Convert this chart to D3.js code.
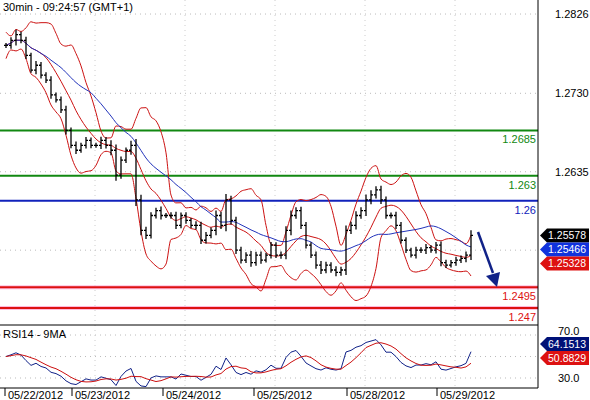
<!DOCTYPE html><html><head><meta charset="utf-8">
<script src="https://cdn.jsdelivr.net/npm/d3@7"></script>
<style>body{margin:0;background:#fff}text{font-family:Arial,"Liberation Sans",sans-serif}</style></head><body>
<svg id="c" width="590" height="400"></svg>
<script>
const closes=[1.2788,1.2794,1.2801,1.2794,1.2776,1.2758,1.2764,1.2752,1.2746,1.2728,1.2722,1.2710,1.2685,1.2667,1.2661,1.2667,1.2673,1.2667,1.2667,1.2673,1.2667,1.2661,1.2631,1.2649,1.2661,1.2667,1.2601,1.2564,1.2558,1.2582,1.2588,1.2582,1.2582,1.2582,1.2570,1.2582,1.2576,1.2570,1.2570,1.2552,1.2558,1.2564,1.2582,1.2570,1.2601,1.2576,1.2540,1.2528,1.2534,1.2525,1.2534,1.2528,1.2534,1.2546,1.2534,1.2534,1.2564,1.2582,1.2588,1.2570,1.2546,1.2534,1.2522,1.2516,1.2522,1.2516,1.2513,1.2516,1.2564,1.2570,1.2582,1.2588,1.2601,1.2607,1.2613,1.2601,1.2582,1.2582,1.2570,1.2552,1.2540,1.2534,1.2540,1.2540,1.2543,1.2540,1.2546,1.2525,1.2522,1.2525,1.2528,1.2530,1.2534,1.2558];
const wicks=[6,8,12,7,9,6,10,8,7,9,6,8,10,7,9,6,8,7,6,9,8,12,14,9,7,11,15,12,9,8,7,10,6,8,9,7,8,6,10,9,8,7,12,9,14,10,9,8,7,10,8,9,6,8,7,9,10,12,8,9,8,7,9,10,8,7,9,8,12,9,10,8,13,11,9,10,8,7,9,8,7,6,8,7,9,6,8,9,7,6,8,7,9,12];
const levels=[{v:1.2685,c:"#118811",t:"1.2685"},{v:1.263,c:"#118811",t:"1.263"},{v:1.26,c:"#1122bb",t:"1.26"},{v:1.2495,c:"#dd1111",t:"1.2495"},{v:1.247,c:"#dd1111",t:"1.247"}];
const priceTicks=[1.2826,1.2730,1.2635,1.2540];
const dates=["05/22/2012","05/23/2012","05/24/2012","05/25/2012","05/28/2012","05/29/2012"];
const dateIdx=[0,13.4,31.6,49.8,68.4,86.4];
const rsiTicks=[70,30];
const lastVals=["1.25578","1.25466","1.25328"];
const rsiVals=["64.1513","50.8829"];

const svg=d3.select("#c");
const xS=d3.scaleLinear().domain([0,closes.length-1]).range([6,471]);
const yP=d3.scaleLinear().domain([1.2843,1.2453]).range([0,322]);
const yR=d3.scaleLinear().domain([78.4,20.7]).range([326,388]);
const R=538;
priceTicks.forEach(t=>{svg.append("line").attr("x1",0).attr("x2",R).attr("y1",yP(t)).attr("y2",yP(t)).attr("stroke","#bbb").attr("stroke-dasharray","1,4");
 if(t!==1.2540) svg.append("text").attr("x",555).attr("y",yP(t)+4).attr("font-size",11).text(t.toFixed(4));});
rsiTicks.forEach(t=>{svg.append("line").attr("x1",0).attr("x2",R).attr("y1",yR(t)).attr("y2",yR(t)).attr("stroke","#bbb").attr("stroke-dasharray","1,4");
 svg.append("text").attr("x",558).attr("y",yR(t)+(t===70?0:4)).attr("font-size",11).text(t.toFixed(1));});
[50].forEach(t=>svg.append("line").attr("x1",0).attr("x2",R).attr("y1",yR(t)).attr("y2",yR(t)).attr("stroke","#bbb").attr("stroke-dasharray","1,4"));
d3.range(1,6).forEach(i=>{const x=i*90+5;svg.append("line").attr("x1",x).attr("x2",x).attr("y1",0).attr("y2",388).attr("stroke","#ccc").attr("stroke-dasharray","1,4");});
levels.forEach(l=>{const y=yP(l.v);
 if(l.c==="#dd1111") svg.append("rect").attr("x",0).attr("width",R).attr("y",y-2).attr("height",4).attr("fill","#fbd");
 svg.append("line").attr("x1",0).attr("x2",R).attr("y1",y).attr("y2",y).attr("stroke",l.c).attr("stroke-width",2);
 svg.append("text").attr("x",R-2).attr("y",y+13).attr("text-anchor","end").attr("font-size",11).attr("fill",l.c).text(l.t);});
function sma(a,n,i){const s=a.slice(Math.max(0,i-n+1),i+1);return d3.mean(s);}
function sd(a,n,i){const s=a.slice(Math.max(0,i-n+1),i+1);return s.length>1?d3.deviation(s):0.0008;}
const N=8;
const mid=closes.map((c,i)=>sma(closes,N,i));
const up=closes.map((c,i)=>mid[i]+2*Math.max(sd(closes,N,i),0.0004));
const lo=closes.map((c,i)=>mid[i]-2*Math.max(sd(closes,N,i),0.0004));
const ma=closes.map((c,i)=>sma(closes,18,i));
const lineP=d3.line().x((d,i)=>xS(i)).y(d=>yP(d)).curve(d3.curveMonotoneX);
[up,lo,mid].forEach(a=>svg.append("path").attr("d",lineP(a)).attr("fill","none").attr("stroke","#cc1111").attr("stroke-width",1));
svg.append("path").attr("d",lineP(ma)).attr("fill","none").attr("stroke","#2233bb").attr("stroke-width",1);
closes.forEach((c,i)=>{const o=i?closes[i-1]:c;const w=wicks[i]*0.0001;
 const h=Math.max(o,c)+w*0.5,l=Math.min(o,c)-w*0.5,x=xS(i);
 const g=svg.append("g").attr("stroke","#000").attr("stroke-width",1.3);
 g.append("line").attr("x1",x).attr("x2",x).attr("y1",yP(h)).attr("y2",yP(l));
 g.append("line").attr("x1",x-2).attr("x2",x).attr("y1",yP(o)).attr("y2",yP(o));
 g.append("line").attr("x1",x).attr("x2",x+2).attr("y1",yP(c)).attr("y2",yP(c));});
svg.append("line").attr("x1",478).attr("y1",232).attr("x2",493).attr("y2",273).attr("stroke","#112288").attr("stroke-width",2.5);
svg.append("path").attr("d","M486,276 L500,272 L497,287 Z").attr("fill","#112288");
const P=14;let ag=0.0007,al=0.0007;const rsi=[];
closes.forEach((c,i)=>{if(i===0){rsi.push(50);return;}const d=c-closes[i-1];
 ag=(ag*(P-1)+Math.max(d,0))/P;al=(al*(P-1)+Math.max(-d,0))/P;rsi.push(100-100/(1+ag/al));});
const rma=rsi.map((r,i)=>sma(rsi,5,i));
const lineR=d3.line().x((d,i)=>xS(i)).y(d=>yR(Math.max(22,Math.min(78,d))));
svg.append("path").attr("d",lineR(rsi)).attr("fill","none").attr("stroke","#112288");
svg.append("path").attr("d",lineR(rma)).attr("fill","none").attr("stroke","#cc1111");
svg.append("line").attr("x1",R).attr("x2",R).attr("y1",0).attr("y2",388).attr("stroke","#000");
svg.append("line").attr("x1",0).attr("x2",R).attr("y1",325).attr("y2",325).attr("stroke","#000");
svg.append("line").attr("x1",0).attr("x2",R).attr("y1",388).attr("y2",388).attr("stroke","#000");
svg.append("text").attr("x",3).attr("y",11).attr("font-size",11).text("30min - 09:24:57 (GMT+1)");
svg.append("text").attr("x",3).attr("y",338).attr("font-size",11).text("RSI14 - 9MA");
dates.forEach((d,i)=>{const x=xS(dateIdx[i])-1;svg.append("line").attr("x1",x).attr("x2",x).attr("y1",388).attr("y2",396).attr("stroke","#000");
 svg.append("text").attr("x",x+3).attr("y",399).attr("font-size",11).text(d);});
function tag(y,bg,t){svg.append("path").attr("d",`M${R+2},${y} L${R+9},${y-7} L589,${y-7} L589,${y+7} L${R+9},${y+7} Z`).attr("fill",bg);
 svg.append("text").attr("x",586).attr("y",y+4).attr("text-anchor","end").attr("font-size",10.5).attr("fill","#fff").text(t);}
const y0=yP(1.25578);
tag(y0,"#000",lastVals[0]);tag(y0+14,"#1133dd",lastVals[1]);tag(y0+28,"#dd1111",lastVals[2]);
tag(344,"#001177",rsiVals[0]);tag(358,"#dd1111",rsiVals[1]);
</script></body></html>
